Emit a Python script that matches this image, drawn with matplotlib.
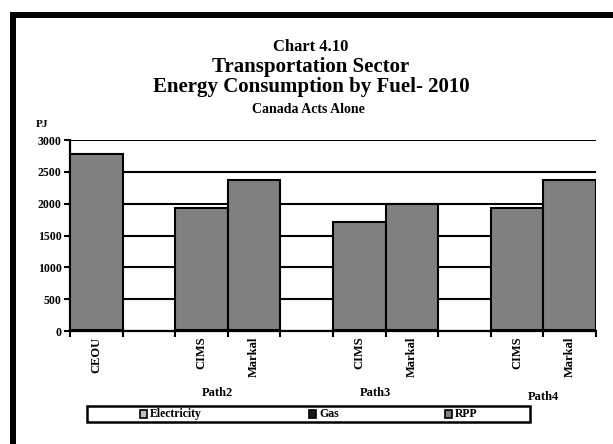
import matplotlib
matplotlib.use("Agg")
import matplotlib.pyplot as plt
from matplotlib.patches import Rectangle
from matplotlib.lines import Line2D
from matplotlib.transforms import blended_transform_factory
import numpy as np

# ---- data ----
categories = ["CEOU", "", "CIMS", "Markal", "", "CIMS", "Markal", "", "CIMS", "Markal"]
groups = ["Path2", "Path3", "Path4"]
fuels = ["Electricity", "Gas", "RPP"]
electricity = [3, 0, 3, 3, 0, 3, 3, 0, 3, 3]
gas = [8, 0, 7, 7, 0, 6, 6, 0, 7, 7]
rpp = [2769, 0, 1920, 2360, 0, 1701, 1981, 0, 1920, 2360]
y_ticks = [0, 500, 1000, 1500, 2000, 2500, 3000]

fuel_colors = ["#c0c0c0", "#1a1a1a", "#808080"]
serif = ["Liberation Serif", "DejaVu Serif"]

W, H = 613, 444
fig = plt.figure(figsize=(W / 100, H / 100), dpi=100)

def fx(px):
    return px / W

def fy(py):
    return 1 - py / H

ax = fig.add_axes([fx(70), fy(331), fx(596) - fx(70), fy(140) - fy(331)])

x = np.arange(len(categories))
series = [electricity, gas, rpp]
bottom = np.zeros(len(categories))
for vals, col in zip(series, fuel_colors):
    v = np.array(vals, dtype=float)
    mask = v > 0
    ax.bar(x[mask], v[mask], width=1.0, bottom=bottom[mask], color=col,
           edgecolor="black", linewidth=1.5, zorder=3)
    bottom += v

ax.set_xlim(-0.5, len(categories) - 0.5)
ax.set_ylim(0, 3000)
ax.set_yticks(y_ticks)
ax.set_yticklabels([str(t) for t in y_ticks], fontfamily=serif,
                   fontweight="bold", fontsize=8.5)
ax.yaxis.grid(True, color="black", linewidth=1.5, zorder=0)
ax.set_axisbelow(True)

ax.set_xticks(np.arange(len(categories) + 1) - 0.5)
ax.set_xticklabels([])
ax.tick_params(axis="x", direction="out", length=4, width=1.5, color="black")
ax.tick_params(axis="y", direction="out", length=4, width=1.5, color="black", pad=2)

for s in ["top", "right"]:
    ax.spines[s].set_visible(False)
for s in ["left", "bottom"]:
    ax.spines[s].set_linewidth(1.6)

# rotated category labels under each slot
trans = blended_transform_factory(ax.transData, ax.transAxes)
for i, c in enumerate(categories):
    if c:
        ax.text(i, -0.03, c, rotation=90, ha="center", va="top",
                fontfamily=serif, fontweight="bold", fontsize=9,
                transform=trans)

# group labels
group_pos = [(2.3, 393), (5.3, 393), (8.5, 397)]
for g, (gx, gy) in zip(groups, group_pos):
    ax.text(gx, fy(gy), g, ha="center", va="center", fontfamily=serif,
            fontweight="bold", fontsize=9,
            transform=blended_transform_factory(ax.transData, fig.transFigure))

# titles
fig.text(fx(311), fy(47), "Chart 4.10", ha="center", va="center",
         fontfamily=serif, fontweight="bold", fontsize=12)
fig.text(fx(311), fy(67), "Transportation Sector", ha="center", va="center",
         fontfamily=serif, fontweight="bold", fontsize=15)
fig.text(fx(311), fy(87), "Energy Consumption by Fuel- 2010", ha="center",
         va="center", fontfamily=serif, fontweight="bold", fontsize=15)
fig.text(fx(308), fy(109), "Canada Acts Alone", ha="center", va="center",
         fontfamily=serif, fontweight="bold", fontsize=10)
fig.text(fx(42), fy(124), "PJ", ha="center", va="center",
         fontfamily=serif, fontweight="bold", fontsize=8)

# legend box
fig.patches.append(Rectangle((fx(87), fy(422)), fx(530) - fx(87), fy(406) - fy(422),
                             transform=fig.transFigure, facecolor="white",
                             edgecolor="black", linewidth=1.8))
legend_x = [143, 312, 448]
for name, col, lx in zip(fuels, fuel_colors, legend_x):
    fig.patches.append(Rectangle((fx(lx - 3.5), fy(418)), fx(7), fy(410) - fy(418),
                                 transform=fig.transFigure, facecolor=col,
                                 edgecolor="black", linewidth=1.2))
    fig.text(fx(lx + 7), fy(414), name, ha="left", va="center",
             fontfamily=serif, fontweight="bold", fontsize=8.5)

# outer frame (left and top edges)
fig.add_artist(Line2D([fx(13), fx(13)], [fy(12), 0], transform=fig.transFigure,
                      color="black", linewidth=6 * 0.72, solid_capstyle="butt"))
fig.add_artist(Line2D([fx(10), 1], [fy(15), fy(15)], transform=fig.transFigure,
                      color="black", linewidth=6 * 0.72, solid_capstyle="butt"))

fig.savefig("out.png", dpi=100)
